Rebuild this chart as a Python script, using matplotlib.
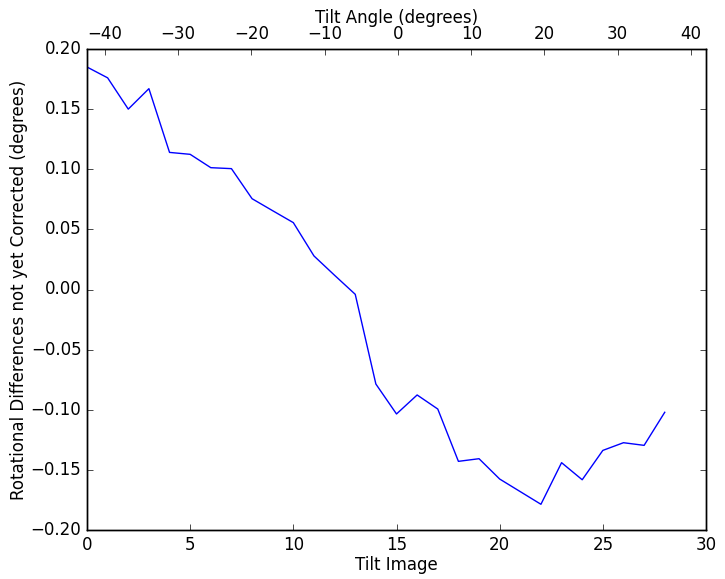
import numpy as np
import matplotlib
matplotlib.use("Agg")
import matplotlib.pyplot as plt
from matplotlib.ticker import MultipleLocator

# Rotation residual per tilt image
tilt_image = list(range(29))
rot_diff = [0.185, 0.176, 0.150, 0.167, 0.114, 0.1124, 0.1013, 0.1005, 0.0755,
            0.0655, 0.0556, 0.0279, 0.0118, -0.004, -0.0786, -0.1035, -0.0877,
            -0.0994, -0.1429, -0.1407, -0.1576, -0.1681, -0.1786, -0.1440,
            -0.1582, -0.1338, -0.1274, -0.1296, -0.1021]

# Range of the tilt angle axis on top
angle_lim = (-42.45, 42.05)

plt.style.use('classic')
plt.rcParams['font.size'] = 12

fig = plt.figure(figsize=(7.25, 5.79), dpi=100)
ax = fig.add_axes([0.12, 0.0846, 0.8538, 0.8308])
ax.plot(tilt_image, rot_diff, color='blue')
ax.set_xlim(0, 30)
ax.set_ylim(-0.2, 0.2)
ax.set_xlabel("Tilt Image", labelpad=2)
ax.set_ylabel("Rotational Differences not yet Corrected (degrees)", labelpad=2)

ax2 = ax.twiny()
ax2.set_xlim(*angle_lim)
ax2.xaxis.set_major_locator(MultipleLocator(10))
ax2.set_xlabel("Tilt Angle (degrees)", labelpad=2)

fig.savefig("out.png", dpi=100)
